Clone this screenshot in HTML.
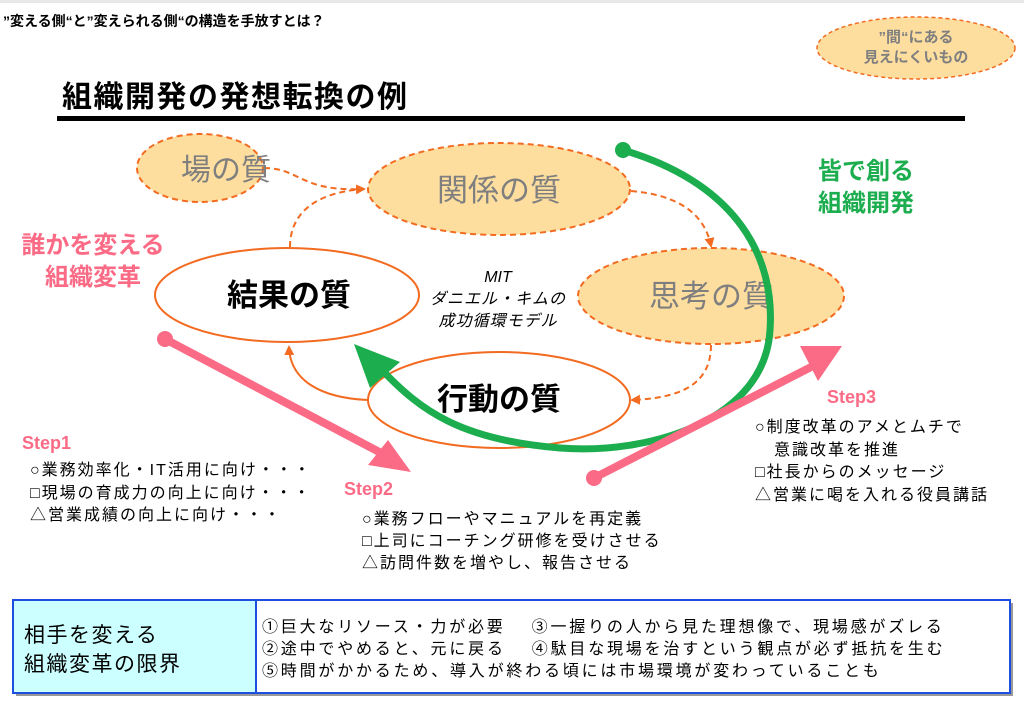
<!DOCTYPE html>
<html><head><meta charset="utf-8"><style>
html,body{margin:0;padding:0;background:#fff;width:1024px;height:705px;overflow:hidden}
svg{display:block}
text{font-family:"Liberation Sans","Noto Sans CJK JP",sans-serif}
.b{font-size:16px;letter-spacing:2px;fill:#000}
.bx{font-size:16px;letter-spacing:2.8px;fill:#000}
</style></head><body>
<svg width="1024" height="705" viewBox="0 0 1024 705" xmlns="http://www.w3.org/2000/svg">
<defs>
<marker id="oa" markerWidth="10" markerHeight="10" refX="8" refY="5" orient="auto" markerUnits="userSpaceOnUse"><path d="M0,0 L10,5 L0,10 z" fill="#f26b21"/></marker>
</defs>
<rect x="0" y="0" width="1024" height="3" fill="#e8e8e8"/>
<text x="3" y="26" font-size="14" font-weight="bold" fill="#000">”変える側“と”変えられる側“の構造を手放すとは？</text>
<text x="62" y="107" font-size="30" font-weight="bold" fill="#000" letter-spacing="1.5">組織開発の発想転換の例</text>
<rect x="57" y="116" width="908" height="5" fill="#000"/>

<ellipse cx="916" cy="48" rx="99" ry="31" fill="#fdde9f" stroke="#f26b21" stroke-width="1.5" stroke-dasharray="4,3"/>
<text x="916" y="42" font-size="15" font-weight="bold" fill="#7f7f7f" text-anchor="middle">”間“にある</text>
<text x="916" y="62" font-size="15" font-weight="bold" fill="#7f7f7f" text-anchor="middle">見えにくいもの</text>

<path d="M264,168 C300,168 300,192 364,189" fill="none" stroke="#f26b21" stroke-width="2" stroke-dasharray="6,4" marker-end="url(#oa)"/>
<path d="M290,247 C290,210 320,192 364,189" fill="none" stroke="#f26b21" stroke-width="2" stroke-dasharray="6,4"/>
<path d="M631,191 C680,195 705,215 711,246" fill="none" stroke="#f26b21" stroke-width="2" stroke-dasharray="6,4" marker-end="url(#oa)"/>
<path d="M711,345 C711,385 680,398 632,400" fill="none" stroke="#f26b21" stroke-width="2" stroke-dasharray="6,4" marker-end="url(#oa)"/>
<path d="M368,400 C320,398 290,380 289,347" fill="none" stroke="#f26b21" stroke-width="2" marker-end="url(#oa)"/>

<ellipse cx="200" cy="168" rx="63" ry="34" fill="#fdde9f" stroke="#f26b21" stroke-width="2" stroke-dasharray="6,4"/>
<text x="226" y="180" font-size="30" fill="#7f7f7f" text-anchor="middle">場の質</text>
<ellipse cx="499" cy="189" rx="131" ry="46" fill="#fdde9f" stroke="#f26b21" stroke-width="2" stroke-dasharray="6,4"/>
<text x="499" y="201" font-size="31" fill="#7f7f7f" text-anchor="middle">関係の質</text>
<ellipse cx="711" cy="296" rx="133" ry="48" fill="#fdde9f" stroke="#f26b21" stroke-width="2" stroke-dasharray="6,4"/>
<text x="711" y="307" font-size="31" fill="#7f7f7f" text-anchor="middle">思考の質</text>
<ellipse cx="287" cy="295" rx="132" ry="47" fill="#fff" stroke="#f26b21" stroke-width="2"/>
<text x="289" y="306" font-size="31" font-weight="bold" fill="#000" text-anchor="middle">結果の質</text>
<ellipse cx="499" cy="400" rx="131" ry="48" fill="#fff" stroke="#f26b21" stroke-width="2"/>
<text x="499" y="410" font-size="31" font-weight="bold" fill="#000" text-anchor="middle">行動の質</text>

<text x="498" y="282" font-size="16" font-style="italic" fill="#000" text-anchor="middle">MIT</text>
<text x="498" y="304" font-size="16" font-style="italic" fill="#000" text-anchor="middle" letter-spacing="1">ダニエル・キムの</text>
<text x="498" y="326" font-size="16" font-style="italic" fill="#000" text-anchor="middle" letter-spacing="1">成功循環モデル</text>

<circle cx="623" cy="150" r="8" fill="#1cad4f"/>
<path d="M623,150 C740,185 775,260 770,330 C765,420 650,455 560,448 C460,440 420,410 382,370" fill="none" stroke="#1cad4f" stroke-width="7" stroke-linecap="round"/>
<path d="M354,344 L400,362 L370,388 z" fill="#1cad4f"/>
<text x="866" y="179" font-size="24" font-weight="bold" fill="#1cad4f" text-anchor="middle">皆で創る</text>
<text x="866" y="211" font-size="24" font-weight="bold" fill="#1cad4f" text-anchor="middle">組織開発</text>

<text x="93" y="253" font-size="24" font-weight="bold" fill="#fb6b86" text-anchor="middle">誰かを変える</text>
<text x="93" y="285" font-size="24" font-weight="bold" fill="#fb6b86" text-anchor="middle">組織変革</text>

<circle cx="165" cy="339" r="8" fill="#fb6b86"/>
<path d="M165,339 L385,455" stroke="#fb6b86" stroke-width="8"/>
<path d="M411,472 L368,465 L388,440 z" fill="#fb6b86"/>
<circle cx="594" cy="478" r="8" fill="#fb6b86"/>
<path d="M594,478 L815,365" stroke="#fb6b86" stroke-width="8"/>
<path d="M842,346 L800,346 L818,381 z" fill="#fb6b86"/>

<text x="22" y="449" font-size="18" font-weight="bold" fill="#fb6b86">Step1</text>
<text x="30" y="475" class="b">○業務効率化・IT活用に向け・・・</text>
<text x="30" y="498" class="b">□現場の育成力の向上に向け・・・</text>
<text x="30" y="520" class="b">△営業成績の向上に向け・・・</text>

<text x="344" y="495" font-size="18" font-weight="bold" fill="#fb6b86">Step2</text>
<text x="362" y="524" class="b">○業務フローやマニュアルを再定義</text>
<text x="362" y="546" class="b">□上司にコーチング研修を受けさせる</text>
<text x="362" y="568" class="b">△訪問件数を増やし、報告させる</text>

<text x="827" y="403" font-size="18" font-weight="bold" fill="#fb6b86">Step3</text>
<text x="755" y="432" class="b">○制度改革のアメとムチで</text>
<text x="774" y="455" class="b">意識改革を推進</text>
<text x="755" y="477" class="b">□社長からのメッセージ</text>
<text x="755" y="500" class="b">△営業に喝を入れる役員講話</text>

<rect x="16" y="603" width="997" height="93" fill="#999"/>
<rect x="13" y="600" width="997" height="93" fill="#fff" stroke="#1c4fe0" stroke-width="2"/>
<rect x="14" y="601" width="241" height="91" fill="#ccffff"/>
<line x1="256" y1="600" x2="256" y2="693" stroke="#1c4fe0" stroke-width="2"/>
<text x="24" y="642" font-size="21" fill="#000" letter-spacing="1.5">相手を変える</text>
<text x="24" y="671" font-size="21" fill="#000" letter-spacing="1.5">組織変革の限界</text>
<text x="262" y="632" class="bx">①巨大なリソース・力が必要　 ③一握りの人から見た理想像で、現場感がズレる</text>
<text x="262" y="654" class="bx">②途中でやめると、元に戻る　 ④駄目な現場を治すという観点が必ず抵抗を生む</text>
<text x="262" y="676" class="bx">⑤時間がかかるため、導入が終わる頃には市場環境が変わっていることも</text>
</svg>
</body></html>
